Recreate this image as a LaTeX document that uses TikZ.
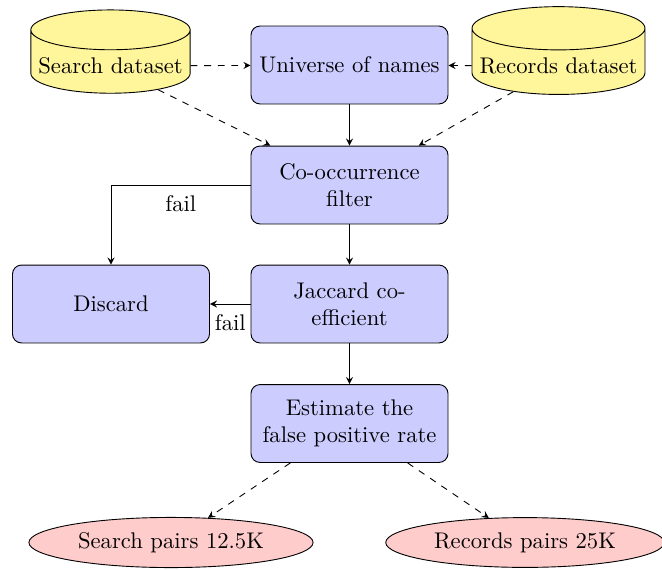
\documentclass[tikz,border=0pt]{standalone}
\usetikzlibrary{shapes.geometric,arrows}
\definecolor{dbfill}{RGB}{255,245,155}
\begin{document}
\begin{tikzpicture}[x=0.44154pt,y=-0.44154pt,>=stealth,
  block/.style={rectangle,draw,fill=blue!20,rounded corners,align=center,
    minimum width=87pt,minimum height=34.4pt,inner sep=2pt},
  db/.style={cylinder,shape border rotate=90,draw,fill=dbfill,aspect=0.25},
  result/.style={ellipse,draw,fill=red!20},
  flow/.style={->},
  dflow/.style={->,dashed}]
\useasboundingbox (0,0) rectangle (662,569);
\node[block] (universe) at (349.5,65) {Universe of names};
\node[block] (cooc) at (349.5,185) {Co-occurrence\\filter};
\node[block] (jacc) at (349.5,304) {Jaccard co-\\efficient};
\node[block] (discard) at (111,304) {Discard};
\node[block] (est) at (349.5,423.5) {Estimate the\\false positive rate};
\node[db] (search) at (110.5,66) {Search dataset};
\node[db] (records) at (558.5,66) {Records dataset};
\node[result] (spairs) at (171,542.5) {Search pairs 12.5K};
\node[result] (rpairs) at (525,542.5) {Records pairs 25K};
\draw[dflow] (search) -- (universe);
\draw[dflow] (records) -- (universe);
\draw[dflow] (search) -- (cooc);
\draw[dflow] (records) -- (cooc);
\draw[flow] (universe) -- (cooc);
\draw[flow] (cooc) -| node[pos=0.25,below=1pt] {fail} (discard);
\draw[flow] (cooc) -- (jacc);
\draw[flow] (jacc) -- node[below=1pt] {fail} (discard);
\draw[flow] (jacc) -- (est);
\draw[dflow] (est) -- (spairs);
\draw[dflow] (est) -- (rpairs);
\end{tikzpicture}
\end{document}
